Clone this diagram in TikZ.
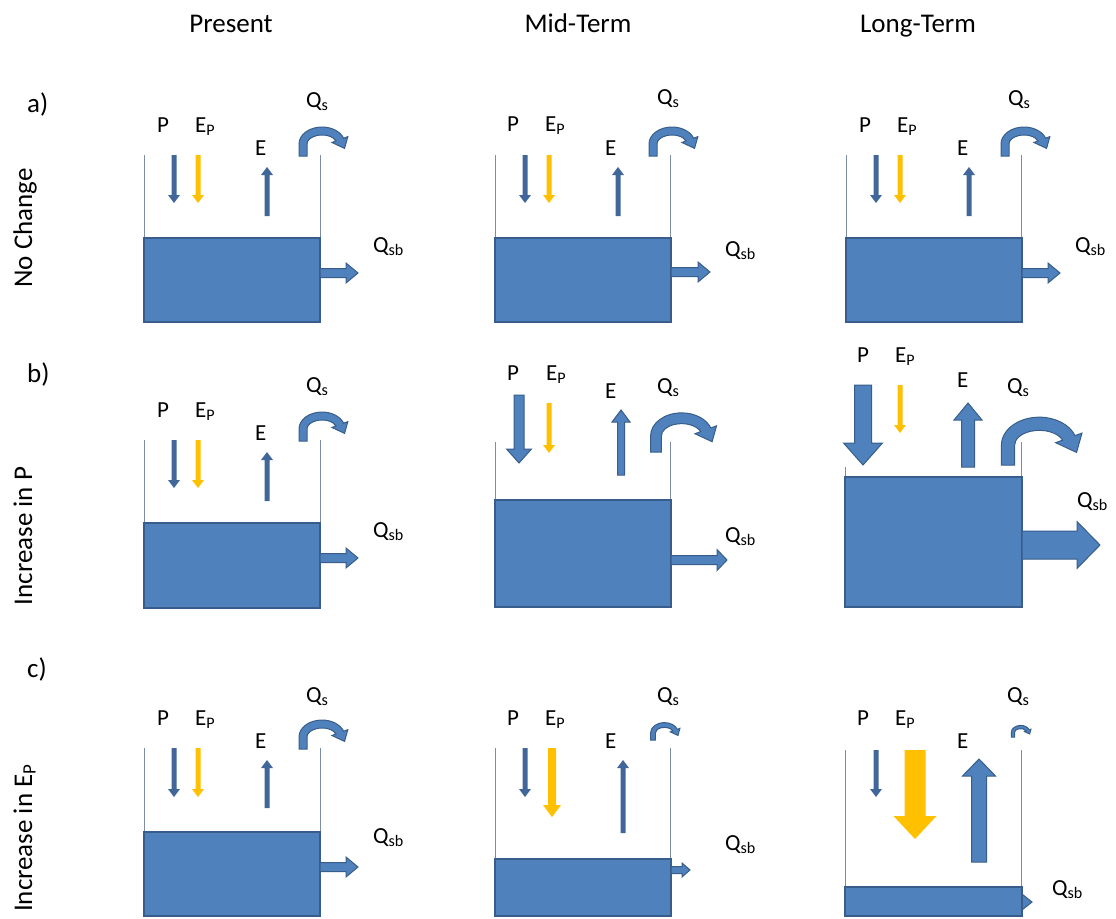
\documentclass[tikz,border=0pt]{standalone}
\usepackage{fontspec}
\setmainfont{Carlito}
\usetikzlibrary{calc}
\definecolor{boxblue}{HTML}{4F81BD}
\definecolor{boxedge}{HTML}{385D8A}
\definecolor{thinblue}{HTML}{41679A}
\definecolor{ylw}{HTML}{FFC000}
\definecolor{wallc}{HTML}{7F8DA3}
\tikzset{
  lbl/.style={anchor=base west, inner sep=0pt, font=\fontsize{23}{26}\selectfont},
  hdr/.style={anchor=base, inner sep=0pt, font=\fontsize{27}{30}\selectfont},
  rowlbl/.style={anchor=base west, inner sep=0pt, font=\fontsize{27}{30}\selectfont},
  tank/.style={fill=boxblue, draw=boxedge, line width=2},
  wall/.style={draw=wallc, line width=0.9},
  thinarr/.style={fill=thinblue},
  yarr/.style={fill=ylw},
  blockarr/.style={fill=boxblue, draw=boxedge, line width=1},
}
% vertical block arrow: x, y-start, y-end, shaft, head, head length, style
\newcommand\varr[7]{%
  \pgfmathsetmacro\hb{#3-sign(#3-#2)*#6}%
  \path[#7] ({#1-#4/2},#2) -- ({#1-#4/2},\hb) -- ({#1-#5/2},\hb) -- (#1,#3)
    -- ({#1+#5/2},\hb) -- ({#1+#4/2},\hb) -- ({#1+#4/2},#2) -- cycle;}
% horizontal block arrow: x-start, x-end, y, shaft, head, head length, style
\newcommand\harr[7]{%
  \pgfmathsetmacro\hb{#2-sign(#2-#1)*#6}%
  \path[#7] (#1,{#3-#4/2}) -- (\hb,{#3-#4/2}) -- (\hb,{#3-#5/2}) -- (#2,#3)
    -- (\hb,{#3+#5/2}) -- (\hb,{#3+#4/2}) -- (#1,{#3+#4/2}) -- cycle;}
% curved surface-runoff arrow: leg x, leg bottom y, scale
\newcommand\qsarr[3]{%
  \pgfmathsetmacro\qw{8*#3}%
  \pgfmathsetmacro\qrx{19*#3}%
  \pgfmathsetmacro\qry{13*#3}%
  \pgfmathsetmacro\qya{#2-12*#3}%
  \pgfmathsetmacro\qcx{#1+19*#3}%
  \pgfmathsetmacro\qh{17*#3}%
  \pgfmathsetmacro\qhl{10*#3}%
  \pgfmathsetmacro\qte{340}%
  \pgfmathsetmacro\qc{cos(\qte)}\pgfmathsetmacro\qs{sin(\qte)}%
  \pgfmathsetmacro\qda{atan2(\qry*\qc,-\qrx*\qs)}%
  \pgfmathsetmacro\qrxo{\qrx+\qw/2}\pgfmathsetmacro\qryo{\qry+\qw/2}%
  \pgfmathsetmacro\qrxi{\qrx-\qw/2}\pgfmathsetmacro\qryi{\qry-\qw/2}%
  % head outer base, tip, head inner base, band inner end
  \pgfmathsetmacro\hax{\qcx+(\qrx+\qh/2)*\qc}\pgfmathsetmacro\hay{\qya+(\qry+\qh/2)*\qs}%
  \pgfmathsetmacro\htx{\qcx+\qrx*\qc+\qhl*cos(\qda)}\pgfmathsetmacro\hty{\qya+\qry*\qs+\qhl*sin(\qda)}%
  \pgfmathsetmacro\hbx{\qcx+(\qrx-\qh/2)*\qc}\pgfmathsetmacro\hby{\qya+(\qry-\qh/2)*\qs}%
  \pgfmathsetmacro\hix{\qcx+\qrxi*\qc}\pgfmathsetmacro\hiy{\qya+\qryi*\qs}%
  \path[blockarr] ({#1-\qw/2},#2) -- ({#1-\qw/2},\qya)
    arc[start angle=180, end angle=\qte, x radius=\qrxo, y radius=\qryo]
    -- (\hax,\hay) -- (\htx,\hty) -- (\hbx,\hby) -- (\hix,\hiy)
    arc[start angle=\qte, end angle=180, x radius=\qrxi, y radius=\qryi]
    -- ({#1+\qw/2},#2) -- cycle;}
\begin{document}
\begin{tikzpicture}[x=1pt,y=-1pt]
\useasboundingbox (0,0) rectangle (1116,918);
% headers
\node[hdr] (hPresent) at (231,32) {Present};
\node[hdr] (hMid) at (578,32) {Mid-Term};
\node[hdr] (hLong) at (918,32) {Long-Term};
% row labels
\node[rowlbl] (ra) at (27,112) {a)};
\node[rowlbl] (rb) at (27,382) {b)};
\node[rowlbl] (rc) at (27,677) {c)};
\node[hdr, rotate=90] (rNo) at (32,228) {No Change};
\node[hdr, rotate=90] (rIncP) at (32,536) {Increase in P};
\node[hdr, rotate=90] (rIncE) at (32,838) {Increase in E\textsubscript{P}};

% ===== Row a =====
% present
\draw[wall] (144,155) -- (144,238) (320,155) -- (320,238);
\path[tank] (144,238) rectangle (320,322);
\varr{174}{155}{203}{5}{12}{8}{thinarr}
\varr{198}{155}{203}{5}{12}{8}{yarr}
\varr{267}{216}{167}{5}{12}{8}{thinarr}
\qsarr{303}{156}{1}
\harr{320}{358}{273}{9}{20}{12}{blockarr}
\node[lbl] (aPp) at (157,132) {P};
\node[lbl] (aEpp) at (195,132) {E\textsubscript{P}};
\node[lbl] (aEp) at (255,155) {E};
\node[lbl] (aQsp) at (306,107) {Q\textsubscript{s}};
\node[lbl] (aQsbp) at (373,252) {Q\textsubscript{sb}};
% mid
\draw[wall] (495,155) -- (495,238) (670,155) -- (670,238);
\path[tank] (495,238) rectangle (671,322);
\varr{525}{155}{203}{5}{12}{8}{thinarr}
\varr{549}{155}{203}{5}{12}{8}{yarr}
\varr{618}{216}{167}{5}{12}{8}{thinarr}
\qsarr{653}{156}{1}
\harr{671}{710}{272}{9}{20}{12}{blockarr}
\node[lbl] (aPm) at (507,131) {P};
\node[lbl] (aEpm) at (545,131) {E\textsubscript{P}};
\node[lbl] (aEm) at (605,155) {E};
\node[lbl] (aQsm) at (657,104) {Q\textsubscript{s}};
\node[lbl] (aQsbm) at (725,256) {Q\textsubscript{sb}};
% long
\draw[wall] (846,155) -- (846,238) (1021,155) -- (1021,238);
\path[tank] (846,238) rectangle (1022,322);
\varr{876}{155}{203}{5}{12}{8}{thinarr}
\varr{900}{155}{203}{5}{12}{8}{yarr}
\varr{969}{216}{167}{5}{12}{8}{thinarr}
\qsarr{1005}{156}{1}
\harr{1022}{1060}{273}{9}{20}{12}{blockarr}
\node[lbl] (aPl) at (859,132) {P};
\node[lbl] (aEpl) at (897,132) {E\textsubscript{P}};
\node[lbl] (aEl) at (957,155) {E};
\node[lbl] (aQsl) at (1008,105) {Q\textsubscript{s}};
\node[lbl] (aQsbl) at (1075,252) {Q\textsubscript{sb}};

% ===== Row b =====
% present
\draw[wall] (144,440) -- (144,523) (320,440) -- (320,523);
\path[tank] (144,523) rectangle (320,608);
\varr{174}{440}{488}{5}{12}{8}{thinarr}
\varr{198}{440}{488}{5}{12}{8}{yarr}
\varr{267}{501}{452}{5}{12}{8}{thinarr}
\qsarr{303}{441}{1}
\harr{320}{358}{558}{9}{20}{12}{blockarr}
\node[lbl] (bPp) at (157,417) {P};
\node[lbl] (bEpp) at (195,417) {E\textsubscript{P}};
\node[lbl] (bEp) at (255,440) {E};
\node[lbl] (bQsp) at (306,392) {Q\textsubscript{s}};
\node[lbl] (bQsbp) at (373,537) {Q\textsubscript{sb}};
% mid
\draw[wall] (495,442) -- (495,500) (670,442) -- (670,500);
\path[tank] (495,500) rectangle (671,607);
\varr{519}{395}{463}{10}{25}{14}{blockarr}
\varr{549}{403}{453}{5}{12}{8}{yarr}
\varr{621}{475}{410}{7}{18}{12}{blockarr}
\qsarr{656}{452}{1.35}
\harr{671}{727}{560}{9}{21}{10}{blockarr}
\node[lbl] (bPm) at (507,380) {P};
\node[lbl] (bEpm) at (546,380) {E\textsubscript{P}};
\node[lbl] (bEm) at (605,398) {E};
\node[lbl] (bQsm) at (657,393) {Q\textsubscript{s}};
\node[lbl] (bQsbm) at (725,542) {Q\textsubscript{sb}};
% long
\draw[wall] (845,467) -- (845,477) (1021,442) -- (1021,477);
\path[tank] (845,477) rectangle (1022,607);
\varr{863}{385}{465}{17}{39}{22}{blockarr}
\varr{900}{385}{433}{5}{12}{8}{yarr}
\varr{968}{467}{403}{13}{28}{17}{blockarr}
\qsarr{1008}{465}{1.65}
\harr{1022}{1100}{545}{28}{47}{23}{blockarr}
\node[lbl] (bPl) at (857,362) {P};
\node[lbl] (bEpl) at (895,362) {E\textsubscript{P}};
\node[lbl] (bEl) at (957,387) {E};
\node[lbl] (bQsl) at (1007,393) {Q\textsubscript{s}};
\node[lbl] (bQsbl) at (1077,507) {Q\textsubscript{sb}};

% ===== Row c =====
% present
\draw[wall] (144,748) -- (144,832) (320,748) -- (320,832);
\path[tank] (144,832) rectangle (320,916);
\varr{174}{748}{797}{5}{12}{8}{thinarr}
\varr{198}{748}{797}{5}{12}{8}{yarr}
\varr{267}{808}{760}{5}{12}{8}{thinarr}
\qsarr{303}{749}{1}
\harr{320}{358}{867}{9}{20}{12}{blockarr}
\node[lbl] (cPp) at (157,725) {P};
\node[lbl] (cEpp) at (195,725) {E\textsubscript{P}};
\node[lbl] (cEp) at (255,748) {E};
\node[lbl] (cQsp) at (306,702) {Q\textsubscript{s}};
\node[lbl] (cQsbp) at (373,843) {Q\textsubscript{sb}};
% mid
\draw[wall] (495,748) -- (495,859) (670,748) -- (670,859);
\path[tank] (495,859) rectangle (671,916);
\varr{525}{748}{797}{5}{12}{8}{thinarr}
\varr{552}{748}{817}{8}{18}{12}{yarr}
\varr{623}{833}{760}{5}{12}{8}{thinarr}
\qsarr{653}{740}{0.6}
\harr{671}{690}{870}{7}{14}{8}{blockarr}
\node[lbl] (cPm) at (507,725) {P};
\node[lbl] (cEpm) at (545,725) {E\textsubscript{P}};
\node[lbl] (cEm) at (605,748) {E};
\node[lbl] (cQsm) at (657,702) {Q\textsubscript{s}};
\node[lbl] (cQsbm) at (725,850) {Q\textsubscript{sb}};
% long
\draw[wall] (845,750) -- (845,887) (1021,750) -- (1021,887);
\harr{1018}{1032}{902}{5}{16}{10}{blockarr}
\path[tank] (845,887) rectangle (1022,916);
\varr{876}{750}{797}{5}{12}{8}{thinarr}
\varr{915}{750}{839}{21}{43}{23}{yarr}
\varr{979}{862}{759}{15}{33}{17}{blockarr}
\qsarr{1013}{737}{0.4}
\node[lbl] (cPl) at (857,725) {P};
\node[lbl] (cEpl) at (895,725) {E\textsubscript{P}};
\node[lbl] (cEl) at (957,748) {E};
\node[lbl] (cQsl) at (1007,702) {Q\textsubscript{s}};
\node[lbl] (cQsbl) at (1052,895) {Q\textsubscript{sb}};
\end{tikzpicture}
\end{document}
